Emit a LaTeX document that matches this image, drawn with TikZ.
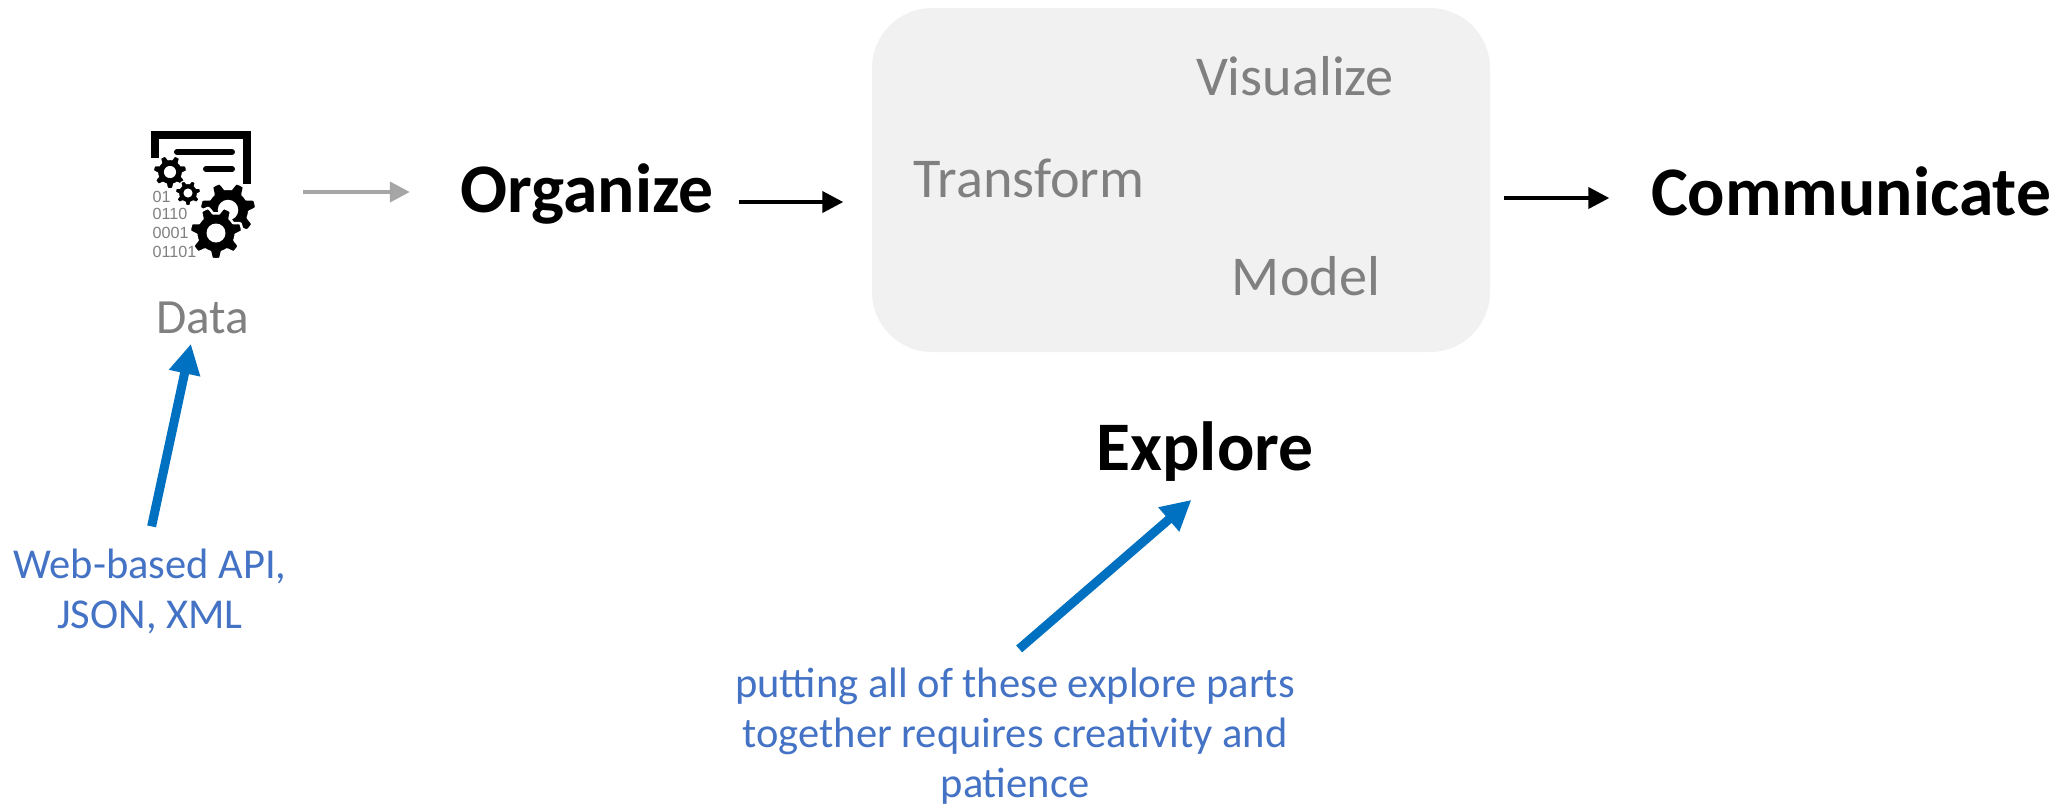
\documentclass[tikz,border=0pt]{standalone}
\usepackage{tikz,color}
\usepackage{fontspec}
\setmainfont{Carlito}
\newfontfamily\digitfont{Liberation Sans}
\usetikzlibrary{arrows.meta}
\definecolor{notecol}{HTML}{4472C4}
\definecolor{callcol}{HTML}{0070C0}
\definecolor{wordcol}{HTML}{808080}
\definecolor{boxcol}{HTML}{F1F1F1}
\definecolor{linecol}{HTML}{A6A6A6}
\tikzset{
  stage/.style={anchor=base,inner sep=0pt,font=\fontsize{19.8}{24}\selectfont\bfseries,text height=.55cm,text depth=.35cm},
  part/.style={anchor=base,inner sep=0pt,text=wordcol,font=\fontsize{16}{20}\selectfont},
  note/.style={align=center,inner sep=0pt,text=notecol,font=\fontsize{12.1}{14.2}\selectfont},
  bits/.style={anchor=base west,inner sep=0pt,text=wordcol,font=\digitfont\fontsize{4.6}{6}\selectfont},
  flow/.style={-{Triangle[length=.21cm,width=.21cm]},line width=.04cm},
  fade/.style={-{Triangle[length=.2cm,width=.2cm]},line width=.04cm,linecol},
  call/.style={-{Triangle[length=.3cm,width=.3cm]},line width=.09cm,callcol}
}
% cog: x, y, radius
\newcommand{\cog}[3]{
\fill [black,draw=white,line width=#3*.1cm,domain=0:360,samples=211] plot({#1+#3*(0.92+0.13*max(-1,min(1,2*sin(7*\x))))*cos(\x)},{#2+#3*(0.92+0.13*max(-1,min(1,2*sin(7*\x))))*sin(\x)}) -- cycle;
\fill [white] (#1,#2) circle ({#3*0.38});
}
\begin{document}
\begin{tikzpicture}
\useasboundingbox (0,0) rectangle (20.67,-8.04);

\node (icon) [minimum width=1cm,minimum height=1.26cm,inner sep=0pt] at (2.01,-1.92) {};
\draw [line width=.08cm] (1.55,-1.58) -- (1.55,-1.35) -- (2.47,-1.35) -- (2.47,-1.84);
\draw [line width=.06cm,line cap=round] (1.77,-1.52) -- (2.32,-1.52);
\draw [line width=.06cm,line cap=round] (2.06,-1.69) -- (2.32,-1.69);
\cog{1.70}{-1.72}{0.16}
\cog{1.88}{-1.93}{0.12}
\cog{2.28}{-2.10}{0.27}
\cog{2.16}{-2.33}{0.25}
\node [bits] at (1.52,-2.02) {01};
\node [bits] at (1.52,-2.19) {0110};
\node [bits] at (1.52,-2.38) {0001};
\node [bits] at (1.52,-2.57) {01101};
\node (data) [part,font=\fontsize{14}{18}\selectfont] at (2.03,-3.33) {Data};

\node (organize) [stage] at (5.87,-2.12) {Organize};
\node (box) [fill=boxcol,rounded corners=.6cm,minimum width=6.18cm,minimum height=3.44cm,inner sep=0pt] at (11.81,-1.80) {};
\node (visualize) [part] at (12.95,-.95) {Visualize};
\node (transform) [part] at (10.29,-1.97) {Transform};
\node (model) [part] at (13.06,-2.95) {Model};
\node (communicate) [stage,text height=.7cm,text depth=.36cm] at (18.51,-2.15) {Communicate};
\node (explore) [stage,text height=.5cm,text depth=.2cm] at (12.05,-4.7) {Explore};

\draw [fade,shorten <=.51cm,shorten >=.5cm] (icon.east) -- (organize.west |- icon.east);
\draw [flow,shorten <=.25cm,shorten >=.28cm] (organize.east) -- (organize.east -| box.west);
\draw [flow,shorten <=.13cm,shorten >=.41cm] (communicate.west -| box.east) -- (communicate.west);

\node (api) [note] at (1.5,-5.91) {Web-based API,\\JSON, XML};
\node (parts) [note] at (10.15,-7.36) {putting all of these explore parts\\together requires creativity and\\patience};
\draw [call,shorten <=.22cm,shorten >=.1cm] ([xshift=-.03cm]api.north) -- ([xshift=-.1cm]data.south);
\draw [call,shorten <=.28cm,shorten >=.14cm] ([xshift=-.17cm]parts.north) -- ([xshift=-.03cm]explore.south);
\end{tikzpicture}
\end{document}
